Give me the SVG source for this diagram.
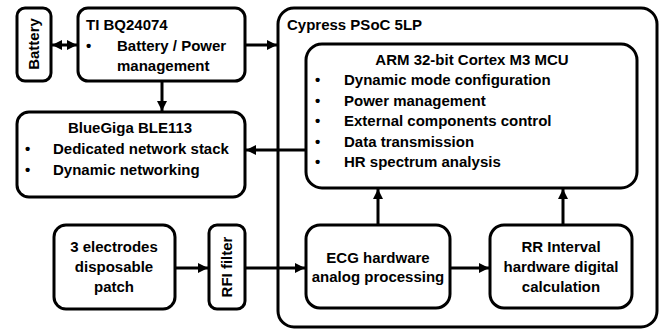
<svg xmlns="http://www.w3.org/2000/svg" width="659" height="330" viewBox="0 0 659 330">
<defs>
<marker id="ah" viewBox="0 0 10 10" refX="10" refY="5" markerWidth="10" markerHeight="10" markerUnits="userSpaceOnUse" orient="auto-start-reverse">
<path d="M0,0 L10,5 L0,10 Z" fill="#000"/>
</marker>
</defs>
<style>
.box{fill:#fff;stroke:#000;stroke-width:3}
.t{font-family:"Liberation Sans",Arial,sans-serif;font-weight:bold;font-size:15px;fill:#000}
.c{text-anchor:middle}
.ln{stroke:#000;stroke-width:3;fill:none}
</style>
<g id="cypress">
<rect class="box" x="278" y="8" width="379" height="319" rx="16"/>
<text class="t" x="287" y="30">Cypress PSoC 5LP</text>
</g>
<g id="battery">
<rect class="box" x="17" y="8" width="34" height="73" rx="8"/>
<text class="t c" transform="translate(39,44) rotate(-90)">Battery</text>
</g>
<g id="ti">
<rect class="box" x="78" y="8" width="167" height="73" rx="10"/>
<text class="t" x="86" y="30">TI BQ24074</text>
<text class="t" x="86" y="51">•</text>
<text class="t" x="117" y="51">Battery / Power</text>
<text class="t" x="117" y="71">management</text>
</g>
<g id="bluegiga">
<rect class="box" x="17" y="112" width="228" height="85" rx="12"/>
<text class="t c" x="130" y="133">BlueGiga BLE113</text>
<text class="t" x="25" y="154">•</text>
<text class="t" x="53" y="154">Dedicated network stack</text>
<text class="t" x="25" y="175">•</text>
<text class="t" x="53" y="175">Dynamic networking</text>
</g>
<g id="arm">
<rect class="box" x="306" y="44" width="331" height="144" rx="16"/>
<text class="t c" x="472" y="65">ARM 32-bit Cortex M3 MCU</text>
<text class="t" x="315" y="85">•</text>
<text class="t" x="344" y="85">Dynamic mode configuration</text>
<text class="t" x="315" y="106">•</text>
<text class="t" x="344" y="106">Power management</text>
<text class="t" x="315" y="126">•</text>
<text class="t" x="344" y="126">External components control</text>
<text class="t" x="315" y="147">•</text>
<text class="t" x="344" y="147">Data transmission</text>
<text class="t" x="315" y="167">•</text>
<text class="t" x="344" y="167">HR spectrum analysis</text>
</g>
<g id="electrodes">
<rect class="box" x="54" y="225" width="121" height="84" rx="12"/>
<text class="t c" x="114" y="252">3 electrodes</text>
<text class="t c" x="114" y="272">disposable</text>
<text class="t c" x="114" y="292">patch</text>
</g>
<g id="rfi">
<rect class="box" x="209" y="225" width="36" height="84" rx="8"/>
<text class="t c" transform="translate(232,267) rotate(-90)">RFI filter</text>
</g>
<g id="ecg">
<rect class="box" x="306" y="225" width="144" height="83" rx="14"/>
<text class="t c" x="378" y="263">ECG hardware</text>
<text class="t c" x="378" y="282">analog processing</text>
</g>
<g id="rr">
<rect class="box" x="490" y="225" width="142" height="83" rx="14"/>
<text class="t c" x="561" y="252">RR Interval</text>
<text class="t c" x="561" y="272">hardware digital</text>
<text class="t c" x="561" y="292">calculation</text>
</g>
<g id="connectors">
<line class="ln" x1="52" y1="45" x2="77" y2="45" marker-start="url(#ah)" marker-end="url(#ah)"/>
<line class="ln" x1="245" y1="45" x2="277" y2="45" marker-end="url(#ah)"/>
<line class="ln" x1="162" y1="81" x2="162" y2="111" marker-end="url(#ah)"/>
<line class="ln" x1="306" y1="150" x2="246" y2="150" marker-end="url(#ah)"/>
<line class="ln" x1="175" y1="268" x2="208" y2="268" marker-end="url(#ah)"/>
<line class="ln" x1="245" y1="268" x2="305" y2="268" marker-end="url(#ah)"/>
<line class="ln" x1="450" y1="268" x2="489" y2="268" marker-end="url(#ah)"/>
<line class="ln" x1="378" y1="225" x2="378" y2="189" marker-end="url(#ah)"/>
<line class="ln" x1="563" y1="225" x2="563" y2="189" marker-end="url(#ah)"/>
</g>
</svg>
